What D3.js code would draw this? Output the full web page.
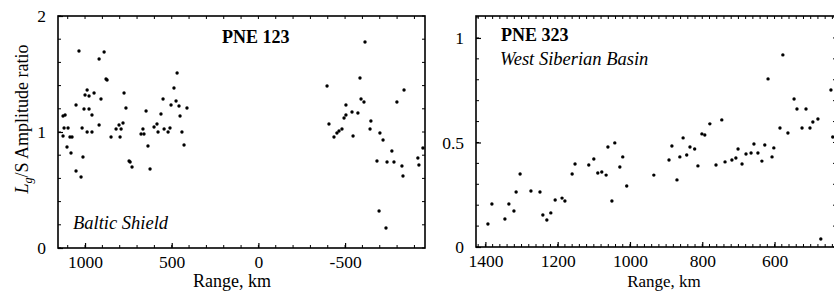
<!DOCTYPE html>
<html>
<head>
<meta charset="utf-8">
<script src="https://cdn.jsdelivr.net/npm/d3@7"></script>
<style>
  body { margin: 0; background: #fff; }
  svg { display: block; }
  text { font-family: "Liberation Serif", "Times New Roman", serif; fill: #000; }
</style>
</head>
<body>
<script>
// PNE 123, Baltic Shield: range (km) and Lg/S ratio
const baltRange = [1115, 1127, 1121, 1098, 1127, 1087, 1075, 1104, 1052, 1035, 1017, 1006, 977, 1000, 988, 977, 948, 988, 960, 960,
  919, 890, 908, 919, 879, 873, 850, 821, 804, 792, 798, 781, 775, 764, 677, 660, 666, 648, 637, 602,
  585, 579, 562, 550, 544, 521, 510, 504, 487, 475, 469, 458, 452, 441, 412, 429, 1081, 1012, 1052, 1023,
  746, 740, 729, 625,
  -615, -396, -586, -840, -799, -592, -609, -505, -505, -494, -540, -574, -407, -453, -465, -482, -436, -546, -649, -644,
  -701, -719, -770, -684, -742, -782, -828, -834, -920, -926, -696, -736, -949];
const baltRatio = [1.147, 1.138, 1.034, 1.034, 0.966, 0.957, 0.957, 0.871, 1.233, 1.698, 1.034, 1.198, 1.198, 1.319, 1.362, 1.310, 1.336, 1.0, 1.0, 1.147,
  1.629, 1.690, 1.284, 1.060, 1.457, 1.448, 0.957, 1.026, 1.060, 1.026, 0.957, 1.078, 1.336, 1.207, 0.983, 0.983, 1.026, 1.181, 0.879, 1.043,
  1.069, 1.0, 1.155, 1.284, 1.026, 1.0, 1.034, 1.233, 1.379, 1.267, 1.509, 1.224, 1.138, 1.0, 1.207, 0.888, 0.819, 0.784, 0.664, 0.612,
  0.750, 0.741, 0.698, 0.681,
  1.776, 1.397, 1.466, 1.362, 1.259, 1.284, 1.259, 1.233, 1.147, 1.121, 1.172, 1.164, 1.069, 0.991, 1.009, 1.026, 0.957, 0.966, 1.095, 1.026,
  0.991, 0.931, 0.836, 0.750, 0.741, 0.741, 0.707, 0.621, 0.776, 0.716, 0.319, 0.172, 0.862];

// PNE 323, West Siberian Basin
const wsbRange = [1393, 1382, 1346, 1335, 1321, 1315, 1304, 1274, 1249, 1241, 1230, 1219, 1207, 1188, 1180, 1160, 1152, 1114, 1100, 1089,
  1078, 1066, 1061, 1042, 1050, 1020, 1028, 1009, 934, 892, 884, 870, 862, 843, 834, 821, 812, 853, 801, 793,
  779, 746, 762, 737, 718, 707, 701, 690, 679, 665, 657, 646, 635, 627, 607, 602, 618, 577, 585, 563,
  546, 538, 513, 494, 480, 524, 502, 444, 439, 472];
const wsbRatio = [0.110, 0.206, 0.134, 0.206, 0.172, 0.263, 0.349, 0.268, 0.263, 0.153, 0.129, 0.163, 0.225, 0.234, 0.220, 0.349, 0.397, 0.392, 0.421, 0.354,
  0.359, 0.344, 0.478, 0.498, 0.220, 0.431, 0.383, 0.292, 0.344, 0.416, 0.483, 0.321, 0.431, 0.440, 0.478, 0.469, 0.388, 0.522, 0.541, 0.536,
  0.589, 0.608, 0.392, 0.407, 0.416, 0.426, 0.469, 0.397, 0.445, 0.450, 0.493, 0.450, 0.411, 0.488, 0.431, 0.474, 0.804, 0.919, 0.569, 0.545,
  0.708, 0.660, 0.660, 0.598, 0.612, 0.569, 0.569, 0.751, 0.526, 0.038];

const baltXTicks = [1000, 500, 0, -500];
const baltYTicks = [0, 1, 2];
const wsbXTicks = [1400, 1200, 1000, 800, 600];
const wsbYTicks = [0, 0.5, 1];

const svg = d3.select("body").append("svg").attr("width", 834).attr("height", 291);

function drawPanel({ x0, x1, y0, y1, xDomain, yDomain, xTicks, yTicks, xMinor, yMinor, yFmt, range, ratio }) {
  const x = d3.scaleLinear().domain(xDomain).range([x0, x1]);
  const y = d3.scaleLinear().domain(yDomain).range([y1, y0]);
  const g = svg.append("g");

  // minor ticks on all four sides, pointing in
  const xm = d3.range(xMinor[0], xMinor[1] + 1e-9, xMinor[2]);
  const ym = d3.range(yMinor[0], yMinor[1] + 1e-9, yMinor[2]);
  g.selectAll(".mxb").data(xm).enter().append("line")
    .attr("x1", d => x(d)).attr("x2", d => x(d)).attr("y1", y1).attr("y2", y1 - 3)
    .attr("stroke", "#000").attr("stroke-width", 1);
  g.selectAll(".mxt").data(xm).enter().append("line")
    .attr("x1", d => x(d)).attr("x2", d => x(d)).attr("y1", y0).attr("y2", y0 + 3)
    .attr("stroke", "#000").attr("stroke-width", 1);
  g.selectAll(".myl").data(ym).enter().append("line")
    .attr("x1", x0).attr("x2", x0 + 3).attr("y1", d => y(d)).attr("y2", d => y(d))
    .attr("stroke", "#000").attr("stroke-width", 1);
  g.selectAll(".myr").data(ym).enter().append("line")
    .attr("x1", x1).attr("x2", x1 - 3).attr("y1", d => y(d)).attr("y2", d => y(d))
    .attr("stroke", "#000").attr("stroke-width", 1);

  const xa = g.append("g").attr("transform", `translate(0,${y1})`)
    .call(d3.axisBottom(x).tickValues(xTicks).tickSize(-5).tickPadding(8).tickFormat(d => String(d)));
  const ya = g.append("g").attr("transform", `translate(${x0},0)`)
    .call(d3.axisLeft(y).tickValues(yTicks).tickSize(-5).tickPadding(12).tickFormat(yFmt));
  [xa, ya].forEach(a => {
    a.attr("font-family", null).attr("font-size", null);
    a.select(".domain").remove();
    a.selectAll("line").attr("stroke", "#000").attr("stroke-width", 1.2);
    a.selectAll("text").attr("font-size", 17.5).attr("fill", "#000");
  });

  g.append("rect").attr("x", x0).attr("y", y0).attr("width", x1 - x0).attr("height", y1 - y0)
    .attr("fill", "none").attr("stroke", "#000").attr("stroke-width", 1.6);

  g.selectAll(".pt").data(range).enter().append("circle")
    .attr("cx", d => x(d)).attr("cy", (d, i) => y(ratio[i])).attr("r", 1.7).attr("fill", "#000");
  return g;
}

const left = drawPanel({
  x0: 58, x1: 425, y0: 16, y1: 248,
  xDomain: [1156, -961], yDomain: [0, 2],
  xTicks: baltXTicks, yTicks: baltYTicks,
  xMinor: [-900, 1100, 100], yMinor: [0, 2, 0.2],
  yFmt: d3.format("d"),
  range: baltRange, ratio: baltRatio,
});
const right = drawPanel({
  x0: 476, x1: 836, y0: 16, y1: 247,
  xDomain: [1426, 430], yDomain: [0, 1.105],
  xTicks: wsbXTicks, yTicks: wsbYTicks,
  xMinor: [440, 1420, 20], yMinor: [0, 1.1, 0.1],
  yFmt: d => (d === 0.5 ? "0.5" : String(d)),
  range: wsbRange, ratio: wsbRatio,
});

// panel titles and region names
left.append("text").attr("x", 222).attr("y", 43).attr("font-size", 18).attr("font-weight", "bold").text("PNE 123");
left.append("text").attr("x", 73).attr("y", 229).attr("font-size", 18.5).attr("font-style", "italic").text("Baltic Shield");
right.append("text").attr("x", 501).attr("y", 41).attr("font-size", 18).attr("font-weight", "bold").text("PNE 323");
right.append("text").attr("x", 500).attr("y", 65).attr("font-size", 18.5).attr("font-style", "italic").text("West Siberian Basin");

// axis titles
left.append("text").attr("x", 232).attr("y", 287).attr("text-anchor", "middle").attr("font-size", 18).text("Range, km");
right.append("text").attr("x", 664).attr("y", 287).attr("text-anchor", "middle").attr("font-size", 17).text("Range, km");

const yl = left.append("text").attr("transform", "translate(28,119) rotate(-90)").attr("text-anchor", "middle").attr("font-size", 18);
yl.append("tspan").attr("font-style", "italic").text("L");
yl.append("tspan").attr("font-style", "italic").attr("font-size", 12).attr("dy", 4).text("g");
yl.append("tspan").attr("dy", -4).text("/S Amplitude ratio");
</script>
</body>
</html>
